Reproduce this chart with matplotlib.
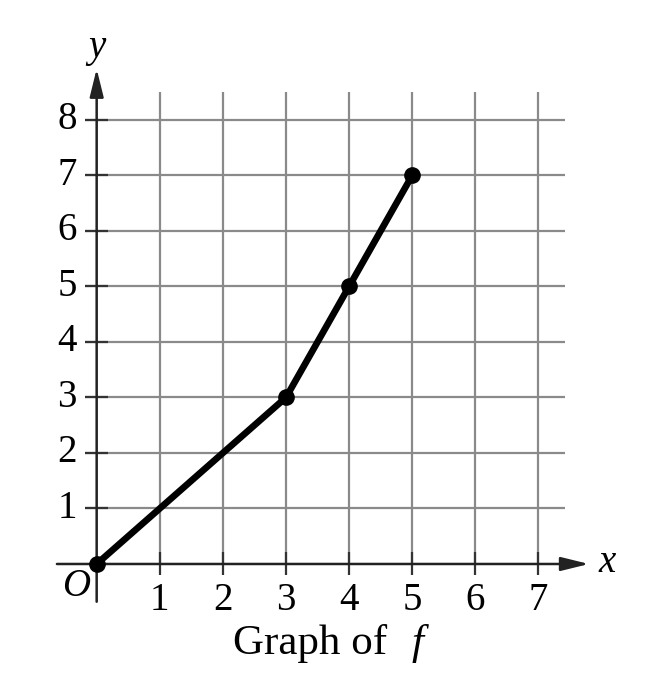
import numpy as np
import matplotlib.pyplot as plt

# points on the graph of f
x_pts = [0, 3, 4, 5]
y_pts = [0, 3, 5, 7]
x_ticks = [1, 2, 3, 4, 5, 6, 7]
y_ticks = [1, 2, 3, 4, 5, 6, 7, 8]

plt.rcParams['font.family'] = ['Liberation Serif', 'DejaVu Serif']

fig = plt.figure(figsize=(6.52, 6.86), dpi=100)
ax = fig.add_axes([0, 0, 1, 1])
ax.set_xlim(-1.532, 8.80)
ax.set_ylim(-2.198, 10.16)
ax.axis('off')

grid_c = '#8a8a8a'
# grid
ax.vlines(x_ticks, 0, 8.5, color=grid_c, lw=1.6, zorder=1)
ax.hlines(y_ticks, -0.18, 7.42, color=grid_c, lw=1.6, zorder=1)
# tick marks
ax.vlines(x_ticks, -0.2, 0.22, color='#333333', lw=1.6, zorder=2)
ax.hlines(y_ticks, -0.18, 0.18, color='#333333', lw=1.6, zorder=2)

# axes with arrows
head = '-|>,head_length=1.7,head_width=0.42'
ax.annotate('', xy=(7.8, 0), xytext=(-0.63, 0),
            arrowprops=dict(arrowstyle=head, color='#222222', lw=1.8,
                            shrinkA=0, shrinkB=0), zorder=3)
ax.annotate('', xy=(0, 8.92), xytext=(0, -0.68),
            arrowprops=dict(arrowstyle=head, color='#222222', lw=1.8,
                            shrinkA=0, shrinkB=0), zorder=3)

# the graph
ax.plot(x_pts, y_pts, color='black', lw=4.8, solid_capstyle='round',
        marker='o', ms=11, zorder=4)

fs = 28
for t in x_ticks:
    ax.text(t, -0.65, str(t), ha='center', va='center', fontsize=fs)
for t in y_ticks:
    ax.text(-0.47, t, str(t), ha='center', va='center', fontsize=fs)
ax.text(-0.32, -0.41, 'O', ha='center', va='center', fontsize=fs, style='italic')
ax.text(8.09, 0.02, 'x', ha='center', va='center', fontsize=fs, style='italic')
ax.text(0.0, 9.3, 'y', ha='center', va='center', fontsize=fs, style='italic')
ax.text(2.16, -1.44, 'Graph of', ha='left', va='center', fontsize=31)
ax.text(5.08, -1.44, 'f', ha='center', va='center', fontsize=31, style='italic')

fig.savefig('out.png', dpi=100)
